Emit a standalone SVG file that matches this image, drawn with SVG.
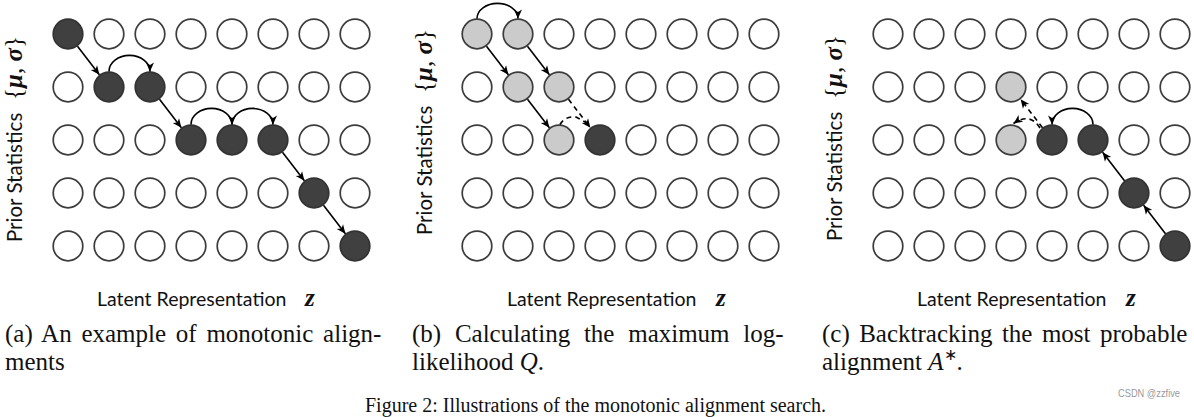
<svg xmlns="http://www.w3.org/2000/svg" width="1194" height="417" viewBox="0 0 1194 417">
<defs>
<style>
.e{fill:#fff;stroke:#3c3c3c;stroke-width:1.7}
.d{fill:#404040;stroke:#333;stroke-width:1.7}
.l{fill:#cbcbcb;stroke:#3c3c3c;stroke-width:1.7}
.c{fill:none;stroke:#000;stroke-width:1.6}
.ar{marker-end:url(#ah)}
.ds{stroke-dasharray:5 4}
.lab{font-family:Lato,"Open Sans",sans-serif;font-size:19.5px;fill:#111}
.ylab{font-family:Lato,"Open Sans",sans-serif;font-size:20.5px;fill:#111}
.math{font-family:"Liberation Serif",serif;font-size:25px;fill:#111}
.bi{font-weight:bold;font-style:italic}
.cap{font-family:"Liberation Serif",serif;font-size:25px;fill:#111}
.figcap{font-family:"Liberation Serif",serif;font-size:20px;fill:#111}
.it{font-style:italic}
</style>
<marker id="ah" viewBox="-10 -5 11 10" refX="0" refY="0" markerWidth="11" markerHeight="10" markerUnits="userSpaceOnUse" orient="auto">
<path d="M0,0 L-9,-4 L-6.5,0 L-9,4 Z" fill="#000"/>
</marker>
</defs>
<rect width="1194" height="417" fill="#fff"/>

<!-- Panel A -->
<g id="panel-a">
<g id="a-r0c0"><circle class="d" cx="68" cy="34" r="14.8"/></g>
<g id="a-r0c1"><circle class="e" cx="109" cy="34" r="14.8"/></g>
<g id="a-r0c2"><circle class="e" cx="150" cy="34" r="14.8"/></g>
<g id="a-r0c3"><circle class="e" cx="191" cy="34" r="14.8"/></g>
<g id="a-r0c4"><circle class="e" cx="232" cy="34" r="14.8"/></g>
<g id="a-r0c5"><circle class="e" cx="273" cy="34" r="14.8"/></g>
<g id="a-r0c6"><circle class="e" cx="314" cy="34" r="14.8"/></g>
<g id="a-r0c7"><circle class="e" cx="355" cy="34" r="14.8"/></g>
<g id="a-r1c0"><circle class="e" cx="68" cy="87" r="14.8"/></g>
<g id="a-r1c1"><circle class="d" cx="109" cy="87" r="14.8"/></g>
<g id="a-r1c2"><circle class="d" cx="150" cy="87" r="14.8"/></g>
<g id="a-r1c3"><circle class="e" cx="191" cy="87" r="14.8"/></g>
<g id="a-r1c4"><circle class="e" cx="232" cy="87" r="14.8"/></g>
<g id="a-r1c5"><circle class="e" cx="273" cy="87" r="14.8"/></g>
<g id="a-r1c6"><circle class="e" cx="314" cy="87" r="14.8"/></g>
<g id="a-r1c7"><circle class="e" cx="355" cy="87" r="14.8"/></g>
<g id="a-r2c0"><circle class="e" cx="68" cy="140" r="14.8"/></g>
<g id="a-r2c1"><circle class="e" cx="109" cy="140" r="14.8"/></g>
<g id="a-r2c2"><circle class="e" cx="150" cy="140" r="14.8"/></g>
<g id="a-r2c3"><circle class="d" cx="191" cy="140" r="14.8"/></g>
<g id="a-r2c4"><circle class="d" cx="232" cy="140" r="14.8"/></g>
<g id="a-r2c5"><circle class="d" cx="273" cy="140" r="14.8"/></g>
<g id="a-r2c6"><circle class="e" cx="314" cy="140" r="14.8"/></g>
<g id="a-r2c7"><circle class="e" cx="355" cy="140" r="14.8"/></g>
<g id="a-r3c0"><circle class="e" cx="68" cy="193" r="14.8"/></g>
<g id="a-r3c1"><circle class="e" cx="109" cy="193" r="14.8"/></g>
<g id="a-r3c2"><circle class="e" cx="150" cy="193" r="14.8"/></g>
<g id="a-r3c3"><circle class="e" cx="191" cy="193" r="14.8"/></g>
<g id="a-r3c4"><circle class="e" cx="232" cy="193" r="14.8"/></g>
<g id="a-r3c5"><circle class="e" cx="273" cy="193" r="14.8"/></g>
<g id="a-r3c6"><circle class="d" cx="314" cy="193" r="14.8"/></g>
<g id="a-r3c7"><circle class="e" cx="355" cy="193" r="14.8"/></g>
<g id="a-r4c0"><circle class="e" cx="68" cy="246" r="14.8"/></g>
<g id="a-r4c1"><circle class="e" cx="109" cy="246" r="14.8"/></g>
<g id="a-r4c2"><circle class="e" cx="150" cy="246" r="14.8"/></g>
<g id="a-r4c3"><circle class="e" cx="191" cy="246" r="14.8"/></g>
<g id="a-r4c4"><circle class="e" cx="232" cy="246" r="14.8"/></g>
<g id="a-r4c5"><circle class="e" cx="273" cy="246" r="14.8"/></g>
<g id="a-r4c6"><circle class="e" cx="314" cy="246" r="14.8"/></g>
<g id="a-r4c7"><circle class="d" cx="355" cy="246" r="14.8"/></g>
</g>

<!-- Panel B -->
<g id="panel-b">
<g id="b-r0c0"><circle class="l" cx="477" cy="34" r="14.8"/></g>
<g id="b-r0c1"><circle class="l" cx="518" cy="34" r="14.8"/></g>
<g id="b-r0c2"><circle class="e" cx="559" cy="34" r="14.8"/></g>
<g id="b-r0c3"><circle class="e" cx="600" cy="34" r="14.8"/></g>
<g id="b-r0c4"><circle class="e" cx="641" cy="34" r="14.8"/></g>
<g id="b-r0c5"><circle class="e" cx="682" cy="34" r="14.8"/></g>
<g id="b-r0c6"><circle class="e" cx="723" cy="34" r="14.8"/></g>
<g id="b-r0c7"><circle class="e" cx="764" cy="34" r="14.8"/></g>
<g id="b-r1c0"><circle class="e" cx="477" cy="87" r="14.8"/></g>
<g id="b-r1c1"><circle class="l" cx="518" cy="87" r="14.8"/></g>
<g id="b-r1c2"><circle class="l" cx="559" cy="87" r="14.8"/></g>
<g id="b-r1c3"><circle class="e" cx="600" cy="87" r="14.8"/></g>
<g id="b-r1c4"><circle class="e" cx="641" cy="87" r="14.8"/></g>
<g id="b-r1c5"><circle class="e" cx="682" cy="87" r="14.8"/></g>
<g id="b-r1c6"><circle class="e" cx="723" cy="87" r="14.8"/></g>
<g id="b-r1c7"><circle class="e" cx="764" cy="87" r="14.8"/></g>
<g id="b-r2c0"><circle class="e" cx="477" cy="140" r="14.8"/></g>
<g id="b-r2c1"><circle class="e" cx="518" cy="140" r="14.8"/></g>
<g id="b-r2c2"><circle class="l" cx="559" cy="140" r="14.8"/></g>
<g id="b-r2c3"><circle class="d" cx="600" cy="140" r="14.8"/></g>
<g id="b-r2c4"><circle class="e" cx="641" cy="140" r="14.8"/></g>
<g id="b-r2c5"><circle class="e" cx="682" cy="140" r="14.8"/></g>
<g id="b-r2c6"><circle class="e" cx="723" cy="140" r="14.8"/></g>
<g id="b-r2c7"><circle class="e" cx="764" cy="140" r="14.8"/></g>
<g id="b-r3c0"><circle class="e" cx="477" cy="193" r="14.8"/></g>
<g id="b-r3c1"><circle class="e" cx="518" cy="193" r="14.8"/></g>
<g id="b-r3c2"><circle class="e" cx="559" cy="193" r="14.8"/></g>
<g id="b-r3c3"><circle class="e" cx="600" cy="193" r="14.8"/></g>
<g id="b-r3c4"><circle class="e" cx="641" cy="193" r="14.8"/></g>
<g id="b-r3c5"><circle class="e" cx="682" cy="193" r="14.8"/></g>
<g id="b-r3c6"><circle class="e" cx="723" cy="193" r="14.8"/></g>
<g id="b-r3c7"><circle class="e" cx="764" cy="193" r="14.8"/></g>
<g id="b-r4c0"><circle class="e" cx="477" cy="246" r="14.8"/></g>
<g id="b-r4c1"><circle class="e" cx="518" cy="246" r="14.8"/></g>
<g id="b-r4c2"><circle class="e" cx="559" cy="246" r="14.8"/></g>
<g id="b-r4c3"><circle class="e" cx="600" cy="246" r="14.8"/></g>
<g id="b-r4c4"><circle class="e" cx="641" cy="246" r="14.8"/></g>
<g id="b-r4c5"><circle class="e" cx="682" cy="246" r="14.8"/></g>
<g id="b-r4c6"><circle class="e" cx="723" cy="246" r="14.8"/></g>
<g id="b-r4c7"><circle class="e" cx="764" cy="246" r="14.8"/></g>
</g>

<!-- Panel C -->
<g id="panel-c">
<g id="c-r0c0"><circle class="e" cx="888" cy="34" r="14.8"/></g>
<g id="c-r0c1"><circle class="e" cx="929" cy="34" r="14.8"/></g>
<g id="c-r0c2"><circle class="e" cx="970" cy="34" r="14.8"/></g>
<g id="c-r0c3"><circle class="e" cx="1011" cy="34" r="14.8"/></g>
<g id="c-r0c4"><circle class="e" cx="1052" cy="34" r="14.8"/></g>
<g id="c-r0c5"><circle class="e" cx="1093" cy="34" r="14.8"/></g>
<g id="c-r0c6"><circle class="e" cx="1134" cy="34" r="14.8"/></g>
<g id="c-r0c7"><circle class="e" cx="1175" cy="34" r="14.8"/></g>
<g id="c-r1c0"><circle class="e" cx="888" cy="87" r="14.8"/></g>
<g id="c-r1c1"><circle class="e" cx="929" cy="87" r="14.8"/></g>
<g id="c-r1c2"><circle class="e" cx="970" cy="87" r="14.8"/></g>
<g id="c-r1c3"><circle class="l" cx="1011" cy="87" r="14.8"/></g>
<g id="c-r1c4"><circle class="e" cx="1052" cy="87" r="14.8"/></g>
<g id="c-r1c5"><circle class="e" cx="1093" cy="87" r="14.8"/></g>
<g id="c-r1c6"><circle class="e" cx="1134" cy="87" r="14.8"/></g>
<g id="c-r1c7"><circle class="e" cx="1175" cy="87" r="14.8"/></g>
<g id="c-r2c0"><circle class="e" cx="888" cy="140" r="14.8"/></g>
<g id="c-r2c1"><circle class="e" cx="929" cy="140" r="14.8"/></g>
<g id="c-r2c2"><circle class="e" cx="970" cy="140" r="14.8"/></g>
<g id="c-r2c3"><circle class="l" cx="1011" cy="140" r="14.8"/></g>
<g id="c-r2c4"><circle class="d" cx="1052" cy="140" r="14.8"/></g>
<g id="c-r2c5"><circle class="d" cx="1093" cy="140" r="14.8"/></g>
<g id="c-r2c6"><circle class="e" cx="1134" cy="140" r="14.8"/></g>
<g id="c-r2c7"><circle class="e" cx="1175" cy="140" r="14.8"/></g>
<g id="c-r3c0"><circle class="e" cx="888" cy="193" r="14.8"/></g>
<g id="c-r3c1"><circle class="e" cx="929" cy="193" r="14.8"/></g>
<g id="c-r3c2"><circle class="e" cx="970" cy="193" r="14.8"/></g>
<g id="c-r3c3"><circle class="e" cx="1011" cy="193" r="14.8"/></g>
<g id="c-r3c4"><circle class="e" cx="1052" cy="193" r="14.8"/></g>
<g id="c-r3c5"><circle class="e" cx="1093" cy="193" r="14.8"/></g>
<g id="c-r3c6"><circle class="d" cx="1134" cy="193" r="14.8"/></g>
<g id="c-r3c7"><circle class="e" cx="1175" cy="193" r="14.8"/></g>
<g id="c-r4c0"><circle class="e" cx="888" cy="246" r="14.8"/></g>
<g id="c-r4c1"><circle class="e" cx="929" cy="246" r="14.8"/></g>
<g id="c-r4c2"><circle class="e" cx="970" cy="246" r="14.8"/></g>
<g id="c-r4c3"><circle class="e" cx="1011" cy="246" r="14.8"/></g>
<g id="c-r4c4"><circle class="e" cx="1052" cy="246" r="14.8"/></g>
<g id="c-r4c5"><circle class="e" cx="1093" cy="246" r="14.8"/></g>
<g id="c-r4c6"><circle class="e" cx="1134" cy="246" r="14.8"/></g>
<g id="c-r4c7"><circle class="d" cx="1175" cy="246" r="14.8"/></g>
</g>

<!-- Connectors -->
<g id="connectors">
<path class="c ar" d="M77.5,46.3 L99.4,74.7"/>
<path class="c ar" d="M109,71.4 A20.5,16 0 0 1 150,71.4"/>
<path class="c ar" d="M159.5,99.3 L181.4,127.7"/>
<path class="c ar" d="M191,124.4 A20.5,16 0 0 1 232,124.4"/>
<path class="c ar" d="M232,124.4 A20.5,16 0 0 1 273,124.4"/>
<path class="c ar" d="M282.5,152.3 L304.4,180.7"/>
<path class="c ar" d="M323.5,205.3 L345.4,233.7"/>

<path class="c ar" d="M477,18.4 A20.5,15 0 0 1 518,18.4"/>
<path class="c ar" d="M486.5,46.3 L508.4,74.7"/>
<path class="c ar" d="M527.5,46.3 L549.4,74.7"/>
<path class="c ar" d="M527.5,99.3 L549.4,127.7"/>
<path class="c ar ds" d="M568.5,99.3 L590.4,127.7"/>
<path class="c ds" d="M560,124.5 Q565,116 576,117 L587,123"/>

<path class="c ar" d="M1165.5,233.7 L1143.6,205.3"/>
<path class="c ar" d="M1124.5,180.7 L1102.6,152.3"/>
<path class="c ar" d="M1093,124.4 A20.5,16 0 0 0 1052,124.4"/>
<path class="c ar ds" d="M1042.5,127.7 L1020.6,99.3"/>
<path class="c ar ds" d="M1040,128 Q1030,112 1013.5,123.5"/>
</g>

<!-- Axis labels -->
<g id="labels">
<text transform="translate(22,242) rotate(-90)"><tspan class="ylab" x="0" y="0">Prior Statistics</tspan><tspan class="math" x="142" y="0">{<tspan class="bi">μ</tspan>, <tspan class="bi">σ</tspan>}</tspan></text>
<text transform="translate(432,235) rotate(-90)"><tspan class="ylab" x="0" y="0">Prior Statistics</tspan><tspan class="math" x="142" y="0">{<tspan class="bi">μ</tspan>, <tspan class="bi">σ</tspan>}</tspan></text>
<text transform="translate(842,241) rotate(-90)"><tspan class="ylab" x="0" y="0">Prior Statistics</tspan><tspan class="math" x="142" y="0">{<tspan class="bi">μ</tspan>, <tspan class="bi">σ</tspan>}</tspan></text>

<text><tspan class="lab" x="97" y="306">Latent Representation</tspan><tspan class="math bi" x="305" y="306">z</tspan></text>
<text><tspan class="lab" x="507" y="306">Latent Representation</tspan><tspan class="math bi" x="716" y="306">z</tspan></text>
<text><tspan class="lab" x="917" y="306">Latent Representation</tspan><tspan class="math bi" x="1126" y="306">z</tspan></text>
</g>

<!-- Captions -->
<g id="captions">
<text class="cap"><tspan x="5" y="342" word-spacing="3.5">(a) An example of monotonic align-</tspan><tspan x="5" y="370">ments</tspan></text>
<text class="cap"><tspan x="412" y="342" word-spacing="7.5">(b) Calculating the maximum log-</tspan><tspan x="412" y="370">likelihood <tspan class="it">Q</tspan>.</tspan></text>
<text class="cap"><tspan x="822" y="342" word-spacing="3.2">(c) Backtracking the most probable</tspan><tspan x="822" y="370">alignment <tspan class="it">A</tspan><tspan font-size="16" dy="-10">∗</tspan><tspan dy="10">.</tspan></tspan></text>
<text class="figcap" x="365" y="412">Figure 2: Illustrations of the monotonic alignment search.</text>
<text x="1118" y="397" font-family="'Liberation Sans',sans-serif" font-size="11" fill="#9a9a9a" textLength="62" lengthAdjust="spacingAndGlyphs">CSDN @zzfive</text>
</g>
</svg>
